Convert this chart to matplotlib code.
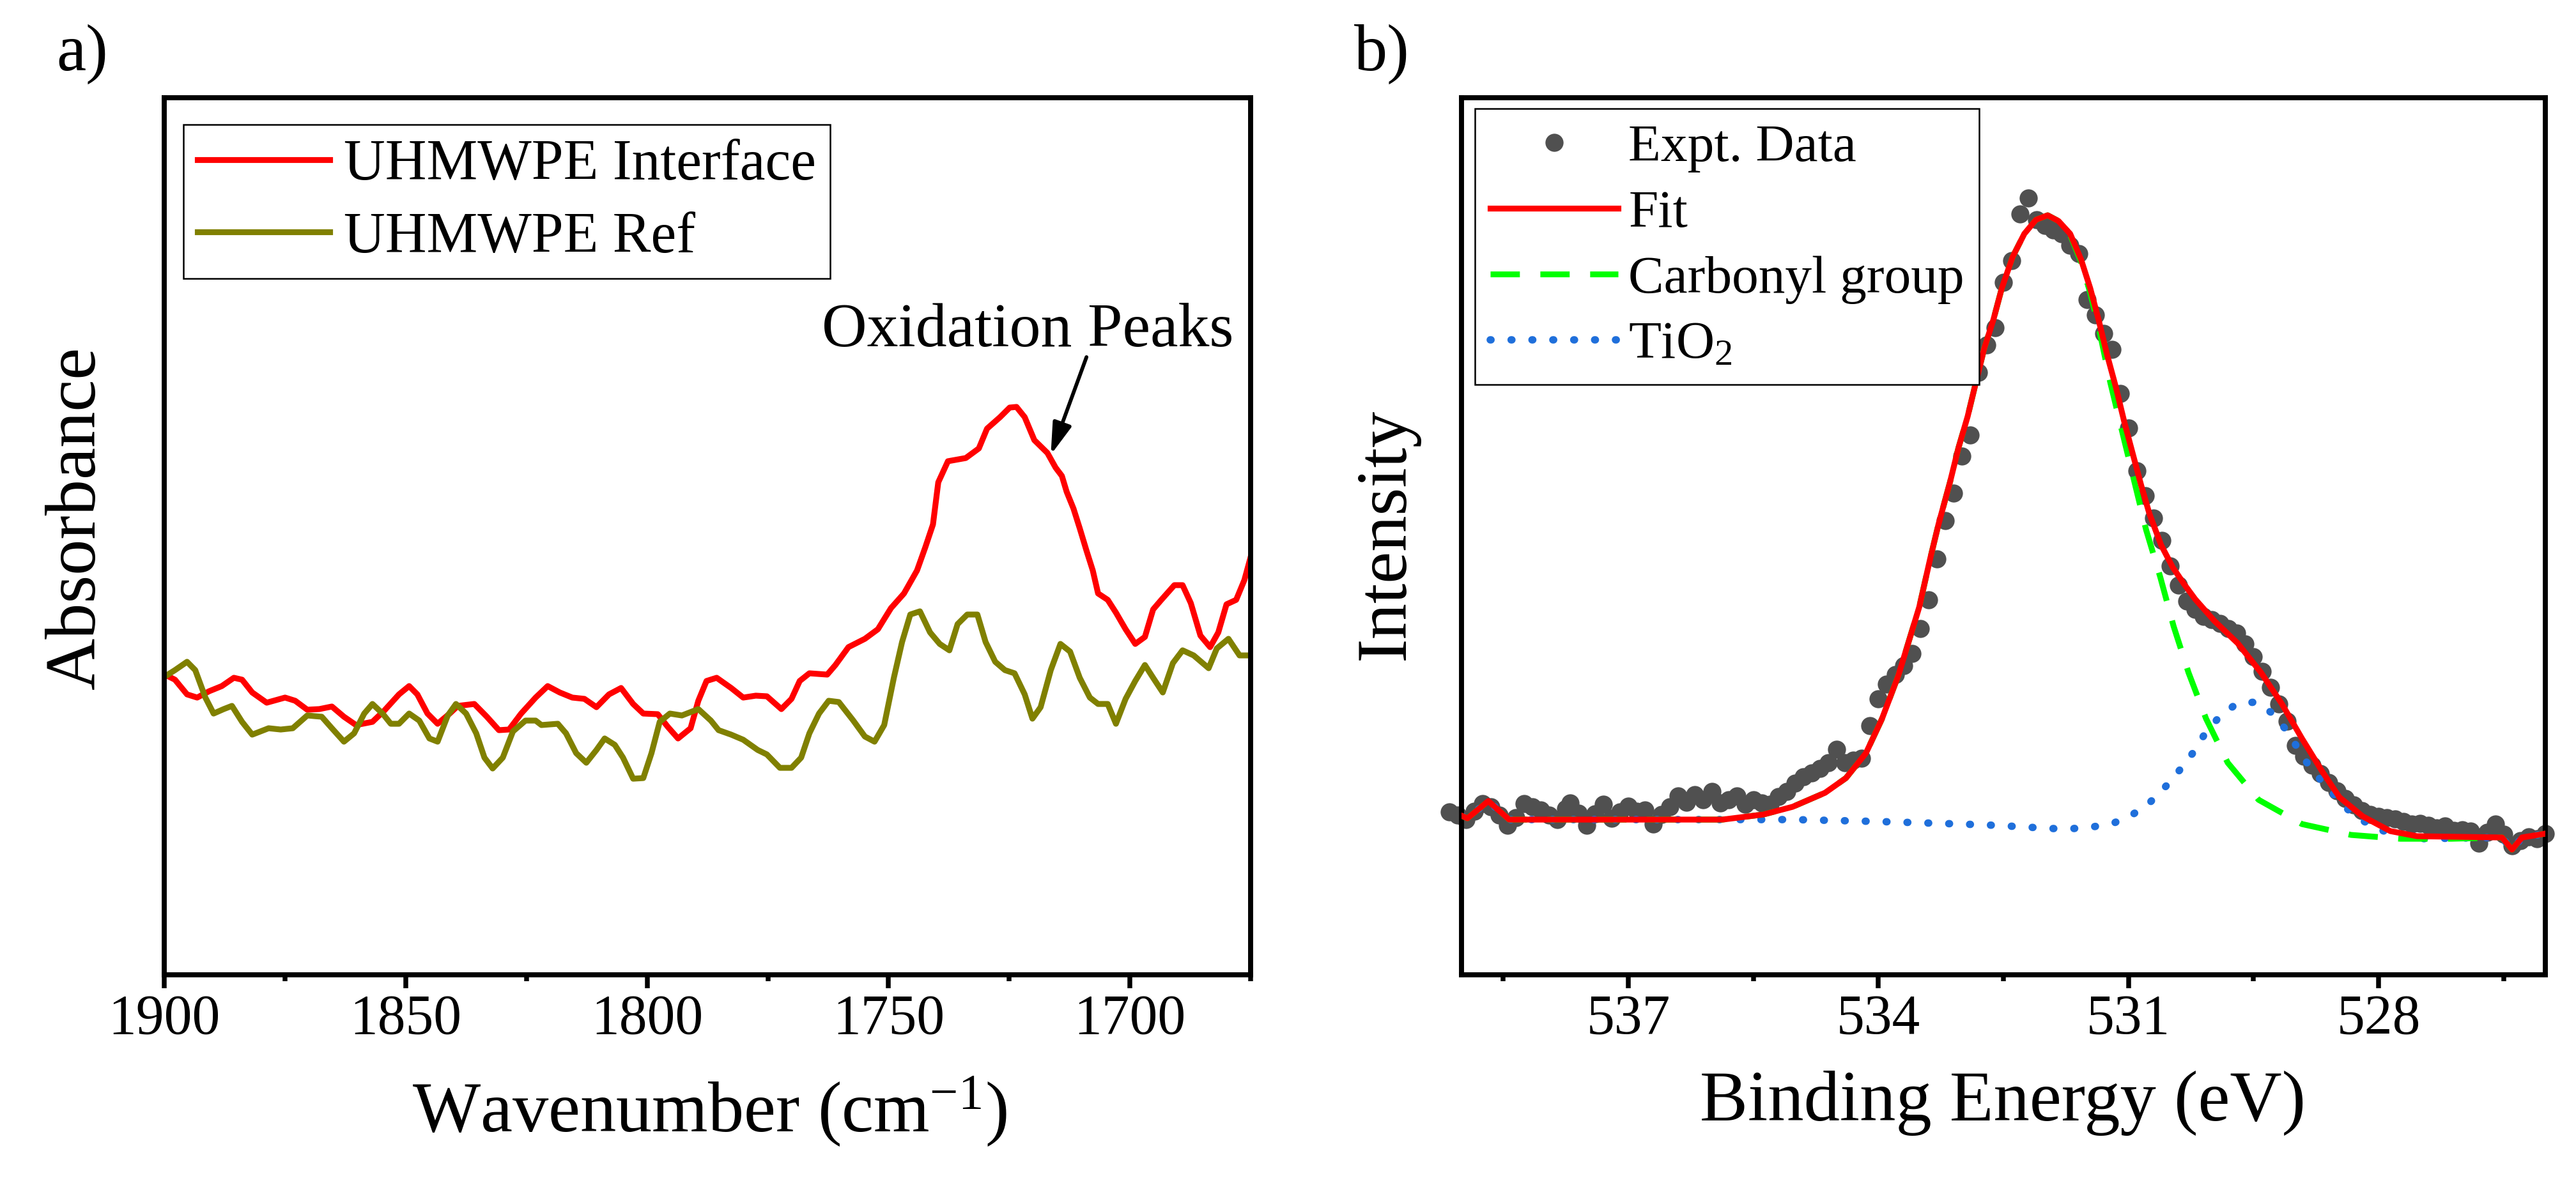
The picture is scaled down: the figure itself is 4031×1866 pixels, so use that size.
import matplotlib.pyplot as plt
from matplotlib.ticker import MultipleLocator

plt.rcParams['font.family'] = ['Liberation Serif', 'DejaVu Serif']
plt.rcParams['mathtext.fontset'] = 'custom'
plt.rcParams['mathtext.rm'] = 'Liberation Serif'
plt.rcParams['mathtext.it'] = 'Liberation Serif:italic'
plt.rcParams['mathtext.bf'] = 'Liberation Serif:bold'

# a) FTIR spectra (absorbance, arbitrary units)
wn_interface = [1899.9, 1897.8, 1895.3, 1893.2, 1890.7, 1888.1, 1885.6, 1883.9, 1881.8, 1878.8,
                1875.0, 1872.9, 1870.4, 1867.9, 1865.3, 1862.8, 1860.3, 1856.9, 1854.4, 1851.4,
                1849.3, 1847.6, 1845.5, 1843.4, 1840.9, 1839.2, 1835.8, 1833.2, 1830.7, 1828.6,
                1826.1, 1823.1, 1820.6, 1818.1, 1815.5, 1813.0, 1810.5, 1807.9, 1805.4, 1802.9,
                1800.8, 1797.8, 1795.7, 1793.6, 1791.0, 1789.4, 1787.7, 1785.6, 1782.6, 1780.1,
                1777.5, 1775.2, 1772.2, 1770.1, 1768.4, 1766.4, 1762.7, 1761.0, 1758.3, 1754.9,
                1752.2, 1749.5, 1746.8, 1744.1, 1742.4, 1740.8, 1739.7, 1737.7, 1734.0, 1731.3,
                1729.6, 1726.9, 1724.9, 1723.5, 1721.8, 1719.8, 1717.1, 1715.4, 1714.1, 1713.1,
                1711.7, 1710.4, 1709.0, 1707.7, 1706.6, 1704.6, 1702.9, 1700.9, 1698.9, 1696.9,
                1695.2, 1693.5, 1690.8, 1689.1, 1687.4, 1685.4, 1683.4, 1681.7, 1680.0, 1678.0,
                1676.3, 1675.0]
abs_interface = [.470, .462, .439, .434, .444, .452, .465, .462, .442, .426,
                 .434, .429, .415, .416, .420, .404, .391, .396, .414, .439,
                 .452, .439, .409, .393, .409, .421, .424, .404, .383, .384,
                 .409, .434, .452, .442, .434, .432, .419, .439, .449, .424,
                 .409, .408, .388, .370, .386, .429, .460, .465, .449, .434,
                 .437, .436, .416, .432, .460, .472, .470, .485, .513, .526,
                 .541, .574, .597, .633, .669, .705, .771, .804, .809, .824,
                 .855, .873, .888, .889, .873, .837, .817, .794, .781, .756,
                 .730, .699, .664, .633, .597, .587, .567, .541, .518, .529,
                 .572, .587, .610, .610, .582, .531, .513, .536, .580, .587,
                 .618, .654]

wn_ref = [1899.9, 1897.8, 1895.3, 1893.6, 1891.5, 1889.8, 1887.7, 1886.0, 1883.9, 1881.8,
          1878.4, 1875.9, 1873.4, 1870.4, 1867.4, 1865.3, 1862.8, 1860.7, 1858.6, 1856.9,
          1854.8, 1853.1, 1851.4, 1849.3, 1847.2, 1845.1, 1843.4, 1841.3, 1839.6, 1837.5,
          1835.4, 1833.7, 1832.0, 1829.9, 1827.8, 1825.2, 1823.1, 1821.9, 1818.5, 1816.8,
          1814.7, 1812.6, 1810.5, 1808.8, 1806.7, 1805.0, 1802.9, 1800.8, 1799.1, 1797.4,
          1795.3, 1792.8, 1789.4, 1786.8, 1785.2, 1782.6, 1780.1, 1777.1, 1775.2, 1772.5,
          1770.1, 1768.1, 1766.4, 1764.4, 1762.4, 1760.3, 1757.3, 1754.9, 1752.9, 1750.9,
          1748.9, 1747.2, 1745.5, 1743.5, 1741.4, 1739.4, 1737.4, 1735.7, 1733.7, 1731.6,
          1729.9, 1727.9, 1725.9, 1723.9, 1721.8, 1720.2, 1718.5, 1716.4, 1714.4, 1712.4,
          1710.4, 1708.3, 1706.6, 1704.6, 1702.9, 1700.9, 1698.9, 1696.9, 1695.2, 1693.2,
          1691.1, 1689.1, 1686.8, 1683.7, 1682.0, 1679.6, 1677.3, 1675.0]
abs_ref = [.467, .477, .490, .477, .434, .409, .416, .421, .396, .376,
           .386, .384, .386, .406, .404, .386, .365, .378, .409, .424,
           .409, .393, .393, .409, .398, .370, .365, .406, .424, .409,
           .378, .340, .323, .340, .381, .398, .398, .391, .393, .378,
           .347, .332, .352, .370, .360, .340, .307, .308, .347, .396,
           .409, .406, .416, .398, .383, .376, .368, .352, .345, .324,
           .324, .340, .378, .409, .429, .427, .398, .373, .365, .391,
           .465, .521, .564, .569, .536, .518, .508, .549, .564, .564,
           .521, .490, .477, .472, .439, .401, .419, .477, .518, .506,
           .465, .434, .424, .424, .393, .432, .460, .485, .465, .442,
           .488, .508, .500, .480, .511, .526, .500, .500]

# b) XPS O 1s (intensity, arbitrary units)
be_data = [539.15, 539.05, 538.95, 538.85, 538.75, 538.65, 538.55, 538.45, 538.35, 538.25,
           538.15, 538.05, 537.95, 537.85, 537.75, 537.70, 537.60, 537.50, 537.40, 537.30,
           537.20, 537.10, 537.00, 536.90, 536.80, 536.70, 536.60, 536.50, 536.40, 536.30,
           536.20, 536.10, 536.00, 535.90, 535.80, 535.70, 535.60, 535.50, 535.40, 535.30,
           535.20, 535.10, 535.00, 534.90, 534.80, 534.70, 534.60, 534.50, 534.40, 534.30,
           534.20, 534.10, 534.00, 533.90, 533.80, 533.70, 533.60, 533.50, 533.40, 533.30,
           533.20, 533.10, 533.00, 532.90, 532.80, 532.70, 532.60, 532.50, 532.40, 532.30,
           532.20, 532.10, 532.00, 531.90, 531.80, 531.70, 531.60, 531.50, 531.40, 531.30,
           531.20, 531.10, 531.00, 530.90, 530.80, 530.70, 530.60, 530.50, 530.40, 530.30,
           530.20, 530.10, 530.00, 529.90, 529.80, 529.70, 529.60, 529.50, 529.40, 529.30,
           529.20, 529.10, 529.00, 528.90, 528.80, 528.70, 528.60, 528.50, 528.40, 528.30,
           528.20, 528.10, 528.00, 527.90, 527.80, 527.70, 527.60, 527.50, 527.40, 527.30,
           527.20, 527.10, 527.00, 526.90, 526.80, 526.70, 526.60, 526.50, 526.40, 526.30,
           526.20, 526.10, 526.00]
int_data = [25.5, 25.0, 24.3, 25.6, 26.8, 26.3, 25.0, 23.4, 24.6, 26.8,
            26.3, 25.8, 25.0, 24.3, 26.0, 26.9, 25.3, 23.4, 25.2, 26.7,
            24.5, 25.5, 26.4, 25.6, 25.8, 23.6, 25.1, 26.3, 28.0, 27.0,
            28.2, 27.4, 28.7, 26.9, 27.4, 28.0, 26.7, 27.4, 26.9, 26.7,
            27.9, 28.7, 30.0, 31.0, 31.6, 32.3, 33.2, 35.3, 33.2, 33.6,
            33.9, 39.0, 43.2, 45.5, 47.0, 48.4, 50.3, 54.2, 58.7, 65.1,
            71.1, 75.4, 81.2, 84.5, 94.3, 98.6, 101.3, 108.4, 111.8, 119.1,
            121.6, 118.2, 117.3, 116.6, 116.0, 114.2, 112.9, 105.7, 103.3, 100.4,
            97.9, 91.0, 85.6, 78.9, 75.0, 71.5, 68.0, 64.0, 61.0, 58.5,
            57.2, 56.1, 55.6, 55.0, 54.2, 53.5, 51.8, 49.8, 47.5, 45.0,
            42.4, 39.7, 35.9, 34.2, 32.8, 31.5, 30.1, 28.8, 27.6, 26.6,
            25.7, 25.1, 24.8, 24.6, 24.4, 24.0, 23.6, 23.7, 23.4, 23.0,
            23.3, 22.6, 22.7, 22.5, 20.6, 22.3, 23.6, 22.0, 20.2, 21.0,
            21.6, 21.3, 22.1]

be_fit = [539.0, 538.93, 538.68, 538.43, 538.0, 537.0, 536.0, 535.87, 535.38, 535.03,
          534.64, 534.39, 534.15, 533.96, 533.76, 533.51, 533.38, 533.28, 533.14, 533.04,
          532.93, 532.83, 532.73, 532.62, 532.52, 532.39, 532.25, 532.11, 531.97, 531.84,
          531.70, 531.57, 531.46, 531.36, 531.26, 531.15, 531.05, 530.95, 530.85, 530.75,
          530.61, 530.47, 530.33, 530.20, 529.97, 529.69, 529.41, 529.16, 528.92, 528.67,
          528.47, 528.19, 527.86, 527.54, 526.52, 526.40, 526.28, 526.0]
int_fit = [24.9, 24.5, 27.2, 24.3, 24.3, 24.3, 24.3, 24.3, 25.1, 26.3,
           28.5, 30.8, 34.7, 40.0, 46.9, 57.6, 65.1, 70.5, 77.2, 82.5,
           87.4, 92.8, 98.1, 102.6, 107.5, 112.4, 116.0, 118.2, 118.9, 118.0,
           116.0, 112.0, 107.5, 102.6, 97.2, 91.9, 86.5, 81.6, 76.7, 72.2,
           67.3, 63.8, 61.1, 58.8, 55.4, 51.9, 47.3, 42.4, 37.0, 31.7,
           27.8, 24.8, 22.5, 21.7, 21.5, 19.6, 21.5, 22.1]

be_carbonyl = [539.0, 538.93, 538.68, 538.43, 538.0, 537.0, 536.0, 535.87, 535.38, 535.03,
               534.64, 534.39, 534.15, 533.96, 533.76, 533.51, 533.38, 533.28, 533.14, 533.04,
               532.93, 532.83, 532.73, 532.62, 532.52, 532.39, 532.25, 532.11, 531.97, 531.84,
               531.70, 531.57, 531.46, 531.36, 531.22, 531.07, 530.93, 530.79, 530.62, 530.46,
               530.28, 530.07, 529.81, 529.44, 528.92, 528.33, 527.74, 527.13, 526.52, 526.40,
               526.28, 526.0]
int_carbonyl = [24.9, 24.5, 27.2, 24.3, 24.3, 24.3, 24.3, 24.3, 25.1, 26.3,
                28.5, 30.8, 34.7, 40.0, 46.9, 57.6, 65.1, 70.5, 77.2, 82.5,
                87.4, 92.8, 98.1, 102.6, 107.5, 112.4, 116.0, 118.2, 118.9, 118.0,
                115.8, 111.6, 106.8, 101.5, 92.8, 84.7, 77.2, 69.7, 62.3, 54.6,
                47.3, 40.1, 33.2, 27.4, 23.6, 21.9, 21.3, 21.3, 21.5, 19.6,
                21.5, 22.1]

be_tio2 = [539.0, 538.93, 538.68, 538.43, 537.0, 536.0, 535.01, 534.0, 533.0, 532.59,
           531.92, 531.66, 531.41, 531.17, 530.95, 530.75, 530.56, 530.39, 530.23, 530.10,
           529.93, 529.71, 529.48, 529.28, 529.12, 528.98, 528.84, 528.67, 528.51, 528.31,
           528.07, 527.82, 527.54, 526.52, 526.40, 526.28, 526.0]
int_tio2 = [24.9, 24.5, 27.2, 24.3, 24.3, 24.3, 24.3, 24.0, 23.6, 23.4,
            22.9, 22.9, 23.2, 23.8, 25.1, 26.9, 29.4, 32.0, 34.7, 37.4,
            40.1, 42.4, 42.7, 41.0, 38.5, 35.7, 32.8, 30.1, 27.8, 25.1,
            23.2, 21.9, 21.3, 21.5, 19.6, 21.5, 22.1]

fig = plt.figure(figsize=(4031 / 300, 1866 / 300), dpi=300)
ax1 = fig.add_axes([0.0638, 0.1822, 0.4217, 0.7358])
ax2 = fig.add_axes([0.5674, 0.1822, 0.4207, 0.7358])


def style_axes(ax):
    for sp in ax.spines.values():
        sp.set_linewidth(1.9)
    ax.tick_params(axis='x', which='major', direction='out', length=5, width=1.8,
                   labelsize=21, pad=2, top=False)
    ax.tick_params(axis='x', which='minor', direction='out', length=2.4, width=1.8, top=False)
    ax.set_yticks([])


# panel a
ax1.plot(wn_interface, abs_interface, color='#FF0000', lw=2.2, label='UHMWPE Interface')
ax1.plot(wn_ref, abs_ref, color='#808000', lw=2.2, label='UHMWPE Ref')
ax1.set_xlim(1900, 1675)
ax1.set_ylim(0, 1.373)
ax1.xaxis.set_major_locator(MultipleLocator(50))
ax1.xaxis.set_minor_locator(MultipleLocator(25))
style_axes(ax1)
ax1.set_xlabel('Wavenumber (cm$\\mathregular{^{-1}}$)', fontsize=27)
ax1.xaxis.set_label_coords(0.502, -0.113)
ax1.set_ylabel('Absorbance', fontsize=27)
ax1.yaxis.set_label_coords(-0.05, 0.521)
ax1.text(1763.8, 0.984, 'Oxidation Peaks', fontsize=23.5, ha='left', va='baseline')
ax1.annotate('', xy=(1716.4, 0.814), xytext=(1709.0, 0.967),
             arrowprops=dict(arrowstyle='-|>,head_length=0.5,head_width=0.15',
                             mutation_scale=20, color='black', lw=1.4,
                             shrinkA=0, shrinkB=0))
leg1 = ax1.legend(loc='upper left', bbox_to_anchor=(0.0176, 0.9694), borderaxespad=0,
                  fontsize=21.5, handlelength=2.3, handletextpad=0.25, borderpad=0.25,
                  labelspacing=0.35, fancybox=False, edgecolor='black', framealpha=1)
leg1.get_frame().set_linewidth(0.6)

# panel b
ax2.plot(be_data, int_data, 'o', color='#505050', ms=6.8, mew=0, clip_on=False,
         label='Expt. Data', zorder=1)
ax2.plot(be_fit, int_fit, color='#FF0000', lw=2.2, label='Fit', zorder=4)
ax2.plot(be_carbonyl, int_carbonyl, color='#00FF00', lw=2.2, dashes=(5, 3.5),
         label='Carbonyl group', zorder=3)
ax2.plot(be_tio2, int_tio2, color='#1F6FDB', lw=2.8, dashes=(0.1, 2.7),
         dash_capstyle='round', label='TiO$\\mathregular{_2}$', zorder=2)
ax2.set_xlim(539, 526)
ax2.set_ylim(0, 137.3)
ax2.xaxis.set_major_locator(MultipleLocator(3))
ax2.xaxis.set_minor_locator(MultipleLocator(1.5))
style_axes(ax2)
ax2.set_xlabel('Binding Energy (eV)', fontsize=27)
ax2.xaxis.set_label_coords(0.4994, -0.109)
ax2.set_ylabel('Intensity', fontsize=27)
ax2.yaxis.set_label_coords(-0.039, 0.503)
leg2 = ax2.legend(loc='upper left', bbox_to_anchor=(0.0124, 0.9876), borderaxespad=0,
                  fontsize=20, handlelength=2.4, handletextpad=0.2, borderpad=0.28,
                  labelspacing=0.32, numpoints=1, fancybox=False, edgecolor='black',
                  framealpha=1)
leg2.get_frame().set_linewidth(0.6)

fig.text(0.022, 0.941, 'a)', fontsize=25, ha='left', va='baseline')
fig.text(0.5257, 0.941, 'b)', fontsize=25, ha='left', va='baseline')

fig.savefig('out.png', dpi=300)
